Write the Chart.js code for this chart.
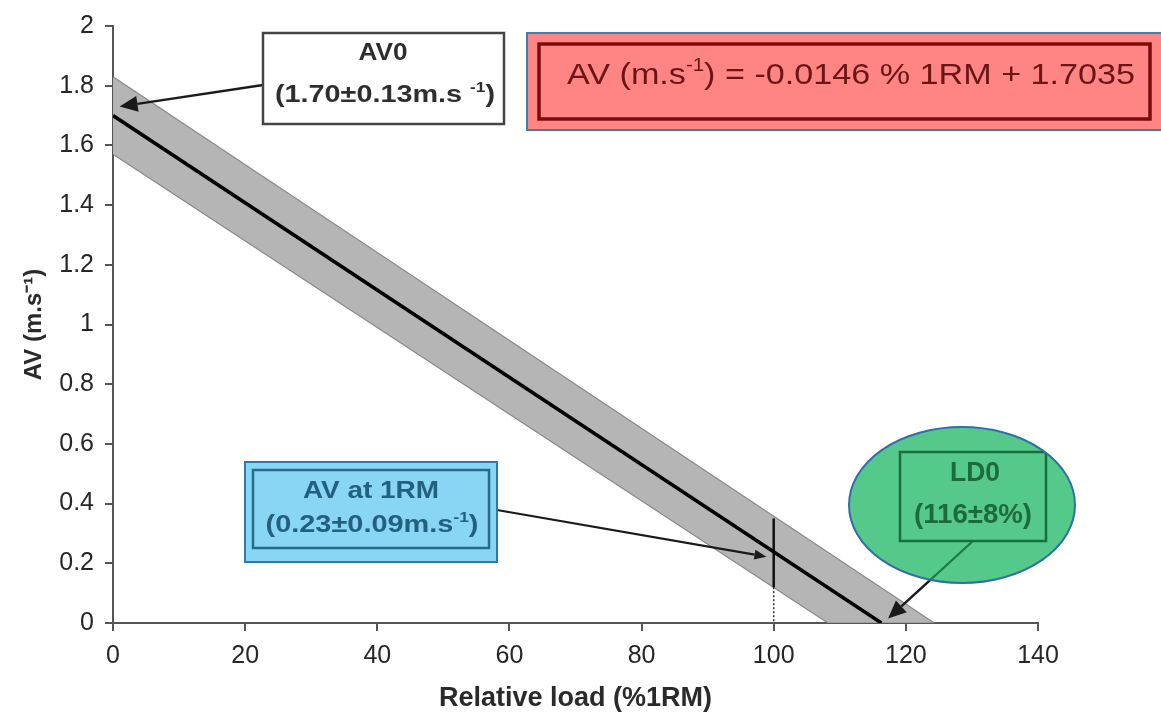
<!DOCTYPE html>
<html>
<head>
<meta charset="utf-8">
<script src="https://cdn.jsdelivr.net/npm/chart.js@4.4.1/dist/chart.umd.min.js"></script>
<style>
  html, body { margin:0; padding:0; background:#fff; }
  canvas { display:block; }
</style>
</head>
<body>
<canvas id="avChart" width="1161" height="717"></canvas>
<script>
// ---------- DATA ----------
const xTickLabels = ['0', '20', '40', '60', '80', '100', '120', '140'];
const yTickLabels = ['0', '0.2', '0.4', '0.6', '0.8', '1', '1.2', '1.4', '1.6', '1.8', '2'];

// regression line AV = -0.0146 %1RM + 1.7035
const lineX = [0, 116.3];
const lineY = [1.70, 0];

// grey band (upper edge, then lower edge back)
const bandX = [0, 124.3, 108.2, 0];
const bandY = [1.83, 0, 0, 1.57];

// marker at 1RM
const rmSolidX = [100, 100];
const rmSolidY = [0.35, 0.12];
const rmDotX   = [100, 100];
const rmDotY   = [0.12, 0];

// arrow tips (data units)
const av0Tip  = { x: 1.0,   y: 1.73 };
const rmTip   = { x: 98.9,  y: 0.222 };
const ld0Tip  = { x: 117.3, y: 0.015 };

const FONT = '"Liberation Sans", Arial, sans-serif';

const pts = (xs, ys) => xs.map((x, i) => ({ x, y: ys[i] }));

// ---------- helpers ----------
function richText (ctx, parts, cx, cy, weight, size, color, targetW) {
  let w = 0;
  parts.forEach(p => {
    ctx.font = `${weight} ${p.sup ? size * 0.6 : size}px ${FONT}`;
    p.w = ctx.measureText(p.t).width;
    w += p.w;
  });
  const sx = targetW ? targetW / w : 1;
  ctx.save();
  ctx.translate(cx - (w * sx) / 2, cy);
  ctx.scale(sx, 1);
  ctx.fillStyle = color;
  ctx.textAlign = 'left';
  ctx.textBaseline = 'middle';
  let x = 0;
  parts.forEach(p => {
    ctx.font = `${weight} ${p.sup ? size * 0.6 : size}px ${FONT}`;
    ctx.fillText(p.t, x, p.sup ? -size * 0.32 : 0);
    x += p.w;
  });
  ctx.restore();
}

function arrow (ctx, x1, y1, x2, y2, color, lw, headLen, headW) {
  const a = Math.atan2(y2 - y1, x2 - x1);
  const bx = x2 - headLen * Math.cos(a), by = y2 - headLen * Math.sin(a);
  ctx.save();
  ctx.strokeStyle = color; ctx.fillStyle = color; ctx.lineWidth = lw;
  ctx.beginPath(); ctx.moveTo(x1, y1); ctx.lineTo(bx, by); ctx.stroke();
  ctx.beginPath();
  ctx.moveTo(x2, y2);
  ctx.lineTo(bx + headW * Math.sin(a), by - headW * Math.cos(a));
  ctx.lineTo(bx - headW * Math.sin(a), by + headW * Math.cos(a));
  ctx.closePath(); ctx.fill();
  ctx.restore();
}

function box (ctx, x, y, w, h, fill, stroke, lw) {
  ctx.save();
  if (fill) { ctx.fillStyle = fill; ctx.fillRect(x, y, w, h); }
  if (stroke) { ctx.strokeStyle = stroke; ctx.lineWidth = lw; ctx.strokeRect(x, y, w, h); }
  ctx.restore();
}

// ---------- annotations ----------
const annotations = {
  id: 'annotations',
  afterDatasetsDraw (chart) {
    const { ctx, scales: { x, y } } = chart;

    /* AV0 box */
    arrow(ctx, 263, 85, x.getPixelForValue(av0Tip.x), y.getPixelForValue(av0Tip.y), '#1a1a1a', 2.4, 18, 8);
    box(ctx, 263, 33, 241, 91, '#fff', '#444', 2.5);
    richText(ctx, [{ t: 'AV0' }], 383, 54, 'bold', 23, '#2e2e2e', 49);
    richText(ctx, [{ t: '(1.70±0.13m.s ' }, { t: '-1', sup: true }, { t: ')' }], 385, 96, 'bold', 23, '#2e2e2e', 220);

    /* equation box */
    box(ctx, 527, 33, 640, 97, '#ff8585', '#3f7fae', 2);
    box(ctx, 539, 44, 611, 75, null, '#7c0c0c', 3.5);
    richText(ctx, [{ t: 'AV (m.s' }, { t: '-1', sup: true }, { t: ') = -0.0146 % 1RM + 1.7035' }],
      851, 76, 'normal', 30, '#6a1616', 568);

    /* AV at 1RM box */
    arrow(ctx, 497, 510, x.getPixelForValue(rmTip.x), y.getPixelForValue(rmTip.y), '#1a1a1a', 2.2, 12, 5);
    box(ctx, 245, 462, 252, 100, '#89d6f4', '#2f78ad', 2);
    box(ctx, 253, 470, 236, 78, null, '#266b8c', 2.5);
    richText(ctx, [{ t: 'AV at 1RM' }], 371, 492, 'bold', 23, '#22607e', 136);
    richText(ctx, [{ t: '(0.23±0.09m.s' }, { t: '-1', sup: true }, { t: ')' }], 372, 526, 'bold', 23, '#22607e', 213);

    /* LD0 ellipse */
    const tx = x.getPixelForValue(ld0Tip.x), ty = y.getPixelForValue(ld0Tip.y);
    arrow(ctx, 973, 541, tx, ty, '#1a1a1a', 2.4, 18, 8);
    ctx.save();
    ctx.beginPath();
    ctx.ellipse(962, 505, 113, 78, 0, 0, Math.PI * 2);
    ctx.fillStyle = '#55c98a';
    ctx.fill();
    ctx.clip();
    ctx.strokeStyle = '#1e7a44'; ctx.lineWidth = 2.2;
    ctx.beginPath(); ctx.moveTo(973, 541); ctx.lineTo(tx, ty); ctx.stroke();
    box(ctx, 900, 452, 146, 89, null, '#17703c', 2.5);
    richText(ctx, [{ t: 'LD0' }], 975, 474, 'bold', 27, '#1c6b3c', 50);
    richText(ctx, [{ t: '(116±8%)' }], 973, 516, 'bold', 27, '#1c6b3c', 118);
    ctx.restore();
    ctx.save();
    ctx.beginPath();
    ctx.ellipse(962, 505, 113, 78, 0, 0, Math.PI * 2);
    ctx.strokeStyle = '#2f6fa8'; ctx.lineWidth = 2;
    ctx.stroke();
    ctx.restore();
  }
};

// ---------- chart ----------
const ctx = document.getElementById('avChart').getContext('2d');

new Chart(ctx, {
  type: 'scatter',
  data: {
    datasets: [
      { data: pts(lineX, lineY), showLine: true, borderColor: '#000', borderWidth: 3.5, pointRadius: 0 },
      { data: pts(rmSolidX, rmSolidY), showLine: true, borderColor: '#111', borderWidth: 2.5, pointRadius: 0 },
      { data: pts(rmDotX, rmDotY), showLine: true, borderColor: '#333', borderWidth: 1.5, borderDash: [2, 2], pointRadius: 0 },
      { data: pts(bandX, bandY), showLine: true, fill: 'shape', backgroundColor: '#b5b5b5',
        borderColor: '#8a8a8a', borderWidth: 1.2, pointRadius: 0 }
    ]
  },
  options: {
    responsive: false,
    animation: false,
    layout: { padding: { top: 20, right: 123, left: 0, bottom: 0 } },
    plugins: { legend: { display: false }, tooltip: { enabled: false } },
    scales: {
      x: {
        type: 'linear', min: 0, max: 140,
        afterFit (s) { s.height = 94; },
        border: { display: true, color: '#555', width: 2 },
        grid: { drawOnChartArea: false, drawTicks: true, tickLength: 8, color: '#555', lineWidth: 2 },
        ticks: {
          stepSize: 20, padding: 10, color: '#262626', font: { family: FONT, size: 25 },
          callback: (v, i) => xTickLabels[i]
        },
        title: {
          display: true, text: 'Relative load (%1RM)', color: '#2a2a2a',
          font: { family: FONT, size: 27, weight: 'bold' }, padding: { top: 0, bottom: 2 }
        }
      },
      y: {
        min: 0, max: 2,
        afterFit (s) { s.width = 113; },
        border: { display: true, color: '#555', width: 2 },
        grid: { drawOnChartArea: false, drawTicks: true, tickLength: 8, color: '#555', lineWidth: 2 },
        ticks: {
          stepSize: 0.2, padding: 11, color: '#262626', font: { family: FONT, size: 25 },
          callback: (v, i) => yTickLabels[i]
        },
        title: {
          display: true, text: 'AV (m.s⁻¹)', color: '#2a2a2a',
          font: { family: FONT, size: 24, weight: 'bold' }, padding: { top: 20, bottom: 0 }
        }
      }
    }
  },
  plugins: [annotations]
});
</script>
</body>
</html>
